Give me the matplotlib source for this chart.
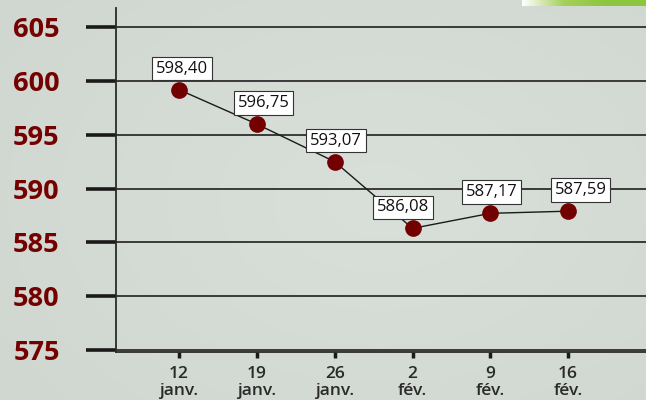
import numpy as np
import matplotlib.pyplot as plt
from matplotlib.colors import LinearSegmentedColormap

# data
dates = ["12\njanv.", "19\njanv.", "26\njanv.", "2\nfév.", "9\nfév.", "16\nfév."]
values = [599.2, 596.0, 592.5, 586.3, 587.7, 587.9]
labels = ["598,40", "596,75", "593,07", "586,08", "587,17", "587,59"]
label_dx = [2, 5, 1, -7, 1, 9]
yticks = [575, 580, 585, 590, 595, 600, 605]

plt.rcParams['font.family'] = ['Open Sans', 'DejaVu Sans']

fig = plt.figure(figsize=(6.46, 4.0), dpi=100)
fig.patch.set_facecolor("#d2d8d2")

# soft radial background
bg = fig.add_axes([0, 0, 1, 1], zorder=-10)
yy, xx = np.mgrid[0:400, 0:646]
r = np.sqrt(((xx - 380) / 380.0) ** 2 + ((yy - 200) / 260.0) ** 2)
cmap_bg = LinearSegmentedColormap.from_list("bg", ["#d9e0d9", "#d0d6d0"])
bg.imshow(r, cmap=cmap_bg, aspect="auto", extent=[0, 646, 400, 0])
# green bar top-right
grad = np.linspace(0, 1, 200).reshape(1, -1)
cmap_g = LinearSegmentedColormap.from_list("g", ["#ffffff", "#a6d05a", "#8cc63f", "#8cc63f"])
bg.imshow(grad, cmap=cmap_g, aspect="auto", extent=[522, 646, 6, 0])
bg.set_xlim(0, 646)
bg.set_ylim(400, 0)
bg.axis("off")

ax = fig.add_axes([116 / 646, 48 / 400, 1 - 116 / 646, 344 / 400])
ax.patch.set_alpha(0)
x = np.arange(len(dates))

for v in yticks:
    ax.axhline(v, color="#2e2e2e", lw=1.3, zorder=1)

ax.plot(x, values, color="#1a1a1a", lw=1, zorder=2)
ax.plot(x, values, "o", color="#720000", ms=11, zorder=3)

for i in range(len(x)):
    ax.annotate(labels[i], (x[i], values[i]), xytext=(label_dx[i], 9.5),
                textcoords="offset points", ha="center", va="bottom",
                fontsize=12, color="#111111",
                bbox=dict(boxstyle="square,pad=0.22", fc="white", ec="#333333", lw=0.8),
                zorder=4)

ax.set_xlim(-0.81, 6.0)
ax.set_ylim(574.8, 606.8)
ax.set_yticks(yticks)
ax.set_xticks(x)
ax.set_xticklabels(dates)
ax.tick_params(axis="y", length=21.5, width=2.6, color="#1a1a1a", pad=19,
               labelsize=19.5, labelcolor="#750000")
for t in ax.get_yticklabels():
    t.set_fontweight("bold")
ax.tick_params(axis="x", length=4, width=2.5, color="#1a1a1a", pad=6,
               labelsize=12.5, labelcolor="#2a2a2a")
for t in ax.get_xticklabels():
    t.set_fontweight("semibold")
    t.set_linespacing(1.1)

for s in ["top", "right"]:
    ax.spines[s].set_visible(False)
ax.spines["left"].set_color("#2a2a2a")
ax.spines["left"].set_linewidth(1.3)
ax.spines["bottom"].set_color("#2a2a2a")
ax.spines["bottom"].set_linewidth(1.3)

fig.savefig("out.png", dpi=100)
